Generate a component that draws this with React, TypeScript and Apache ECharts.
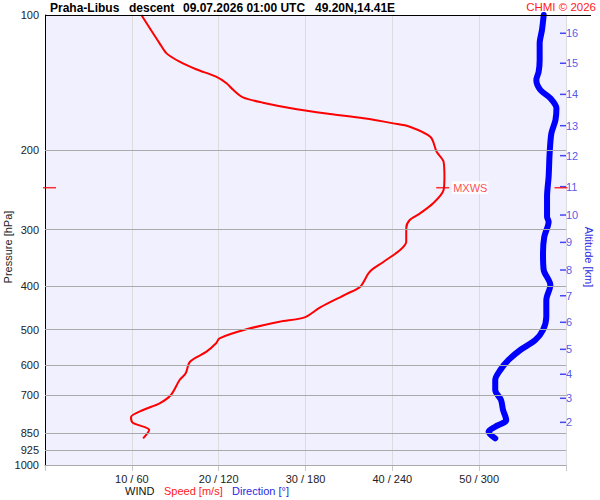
import React, { useEffect, useRef } from "react";
import * as echarts from "echarts";

// Pressure levels (hPa) drawn as grid lines / labels
const pressureLevels = [100, 200, 300, 400, 500, 600, 700, 850, 925, 1000];
// Speed axis ticks (m/s); direction = speed * dirFactor
const speedTicks = [10, 20, 30, 40, 50];
const dirFactor = 6;

// Wind speed profile
const speedP = [100, 108, 115.6, 121.7, 127, 132, 137.1, 141.8, 146.8, 152.4, 156.6, 162, 166, 169.7, 174.1, 177.1, 186.7, 201.3, 211.8, 228.7, 244.8, 262.1, 275.9, 285.5, 297.9, 319.1, 332.9, 353.4, 371.9, 401.6, 416.9, 446.3, 469.7, 480.4, 499.4, 522.9, 536.5, 560, 589.4, 625.5, 647.4, 698.9, 729.3, 754.7, 783.4, 805.4, 836, 872.5];
const speedMs = [11.1, 12.2, 13.2, 14.0, 15.5, 17.4, 19.7, 20.9, 21.7, 22.8, 25.1, 29.0, 32.8, 36.7, 40.1, 42.0, 44.4, 45.1, 45.9, 46.0, 45.9, 44.7, 43.2, 42.0, 41.6, 41.6, 40.9, 39.0, 37.4, 36.3, 34.7, 31.7, 29.9, 27.0, 23.2, 20.1, 19.7, 18.6, 16.7, 16.2, 15.5, 14.5, 13.2, 11.3, 9.9, 10.1, 12.0, 11.3];

// Wind direction profile
const dirP = [100, 108, 115.6, 125.9, 133.7, 139.5, 146.8, 153.1, 161.2, 171.2, 183.2, 202.9, 228.7, 253.3, 280.7, 288, 311, 338.6, 368.7, 398.1, 430, 468.2, 501.2, 527.5, 555.2, 584.3, 615, 647.4, 681.3, 717.1, 754.7, 794.3, 821.9, 843.4, 872.5];
const dirDeg = [344.6, 343.4, 341.8, 341.8, 341.1, 339.5, 342.3, 349.2, 353.4, 352.7, 349.9, 348.7, 348.0, 346.9, 346.9, 348.0, 345.0, 344.1, 344.6, 349.2, 346.4, 346.4, 344.1, 338.8, 328.4, 320.3, 314.6, 311.1, 311.1, 315.1, 316.5, 318.7, 311.1, 306.5, 311.1];

// Altitude ticks (km) and their pressure (hPa)
const altKm = [16, 15, 14, 13, 12, 11, 10, 9, 8, 7, 6, 5, 4, 3, 2];
const altP = [109.8, 128.0, 150.1, 176.2, 205.4, 240.7, 278.3, 320.1, 368.7, 420.6, 481.8, 553.3, 628.6, 710.8, 803.9];

// Maximum wind
const mxwsSpeed = 45.8;
const mxwsP = 242;

const FONT = "'Liberation Sans', Arial, sans-serif";
const BLUE_TXT = "#2a2ae0";

export default function App() {
  const ref = useRef<HTMLDivElement>(null);
  useEffect(() => {
    if (!ref.current) return;
    const chart = echarts.init(ref.current, null, { renderer: "svg" });
    const option: any = {
      animation: false,
      backgroundColor: "#ffffff",
      textStyle: { fontFamily: FONT },
      grid: {
        left: 45,
        right: 34,
        top: 15,
        bottom: 35,
        show: true,
        backgroundColor: "#f0f0ff",
        borderWidth: 0,
      },
      xAxis: {
        type: "value",
        min: 0,
        max: 60,
        interval: 10,
        axisLine: { show: true, lineStyle: { color: "#999999", width: 1 } },
        axisTick: { show: true, inside: false, length: 6, lineStyle: { color: "#c8c8c8" } },
        axisLabel: {
          fontSize: 11,
          color: "#222",
          fontFamily: FONT,
          margin: 8,
          formatter: (v: number) => (speedTicks.includes(v) ? `${v} / ${v * dirFactor}` : ""),
        },
        splitLine: { show: true, lineStyle: { color: "#dcdcdc", width: 1 } },
      },
      yAxis: {
        type: "log",
        logBase: 10,
        min: 100,
        max: 1000,
        inverse: true,
        axisLine: { show: true, lineStyle: { color: "#000", width: 1 } },
        axisTick: { show: false },
        axisLabel: { show: false },
        splitLine: { show: false },
      },
      series: [
        {
          type: "line",
          name: "levels",
          data: [],
          silent: true,
          markLine: {
            silent: true,
            symbol: ["none", "none"],
            animation: false,
            lineStyle: { color: "#aaaaaa", width: 1, type: "solid" },
            label: {
              show: true,
              position: "start",
              distance: 6,
              formatter: (p: any) => String(p.value),
              fontSize: 11,
              color: "#222",
              fontFamily: FONT,
            },
            emphasis: { disabled: true },
            data: pressureLevels.map((p) => ({ yAxis: p })),
          },
        },
        {
          type: "line",
          name: "direction",
          data: dirDeg.map((d, i) => [d / dirFactor, dirP[i]]),
          showSymbol: false,
          symbol: "none",
          smooth: 0.3,
          lineStyle: { color: "#0000ff", width: 6, cap: "round", join: "round" },
          z: 3,
        },
        {
          type: "line",
          name: "speed",
          data: speedMs.map((s, i) => [s, speedP[i]]),
          showSymbol: false,
          symbol: "none",
          smooth: 0.3,
          lineStyle: { color: "#ff0000", width: 2 },
          z: 4,
        },
        {
          type: "scatter",
          name: "alt",
          silent: true,
          data: altKm.map((k, i) => ({ value: [60, altP[i]], name: String(k) })),
          symbol: "rect",
          symbolSize: [6, 1.5],
          symbolOffset: [-3, 0],
          itemStyle: { color: "#1c1cf0" },
          label: {
            show: true,
            position: "right",
            distance: 0,
            formatter: "{b}",
            fontSize: 11,
            color: BLUE_TXT,
            fontFamily: FONT,
          },
          z: 5,
        },
        {
          type: "scatter",
          name: "mxws",
          silent: true,
          data: [
            {
              value: [mxwsSpeed, mxwsP],
              label: {
                show: true,
                position: "right",
                distance: 3,
                formatter: "MXWS",
                fontSize: 11,
                color: "#ff2020",
                backgroundColor: "#ffffff",
                padding: [1, 1],
                fontFamily: FONT,
              },
            },
            { value: [0, mxwsP], symbolOffset: [4.5, 0] },
            { value: [60, mxwsP], symbolOffset: [-5, 0] },
          ],
          symbol: "rect",
          symbolSize: [13, 1.5],
          itemStyle: { color: "#ff0000" },
          z: 6,
        },
      ],
      graphic: [
        {
          type: "line",
          z: 100,
          shape: { x1: 45, y1: 15.5, x2: 591, y2: 15.5 },
          style: { stroke: "#000", lineWidth: 1 },
        },
        { type: "text", x: 50, y: 8, z: 100, style: { text: "Praha-Libus", font: `bold 12px ${FONT}`, fill: "#000", verticalAlign: "middle", textVerticalAlign: "middle" } },
        { type: "text", x: 129, y: 8, z: 100, style: { text: "descent", font: `bold 12px ${FONT}`, fill: "#000", verticalAlign: "middle", textVerticalAlign: "middle" } },
        { type: "text", x: 183, y: 8, z: 100, style: { text: "09.07.2026 01:00 UTC", font: `bold 12px ${FONT}`, fill: "#000", verticalAlign: "middle", textVerticalAlign: "middle" } },
        { type: "text", x: 315, y: 8, z: 100, style: { text: "49.20N,14.41E", font: `bold 12px ${FONT}`, fill: "#000", verticalAlign: "middle", textVerticalAlign: "middle" } },
        { type: "text", x: 596, y: 7, z: 100, style: { text: "CHMI © 2026", font: `11.5px ${FONT}`, fill: "#ff2020", align: "right", textAlign: "right", verticalAlign: "middle", textVerticalAlign: "middle" } },
        { type: "text", x: 8, y: 247, rotation: Math.PI / 2, z: 100, style: { text: "Pressure [hPa]", font: `11px ${FONT}`, fill: "#222", align: "center", textAlign: "center", verticalAlign: "middle", textVerticalAlign: "middle" } },
        { type: "text", x: 589, y: 257, rotation: -Math.PI / 2, z: 100, style: { text: "Altitude [km]", font: `11px ${FONT}`, fill: BLUE_TXT, align: "center", textAlign: "center", verticalAlign: "middle", textVerticalAlign: "middle" } },
        { type: "text", x: 125, y: 491, z: 100, style: { text: "WIND", font: `11px ${FONT}`, fill: "#111", verticalAlign: "middle", textVerticalAlign: "middle" } },
        { type: "text", x: 164, y: 491, z: 100, style: { text: "Speed [m/s]", font: `11px ${FONT}`, fill: "#ff2020", verticalAlign: "middle", textVerticalAlign: "middle" } },
        { type: "text", x: 232, y: 491, z: 100, style: { text: "Direction [°]", font: `11px ${FONT}`, fill: BLUE_TXT, verticalAlign: "middle", textVerticalAlign: "middle" } },
      ],
    };
    chart.setOption(option);
    return () => chart.dispose();
  }, []);
  return (
    <div
      ref={ref}
      style={{ position: "fixed", left: 0, top: 0, width: 600, height: 500 }}
    />
  );
}
